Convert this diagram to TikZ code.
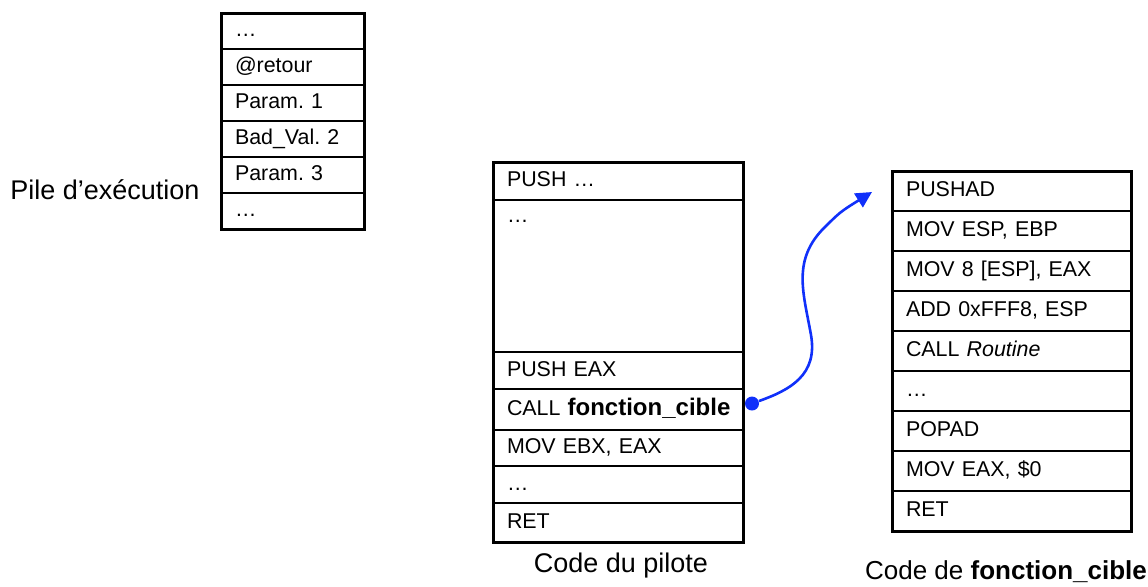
\documentclass[tikz,border=0pt]{standalone}
\usepackage{fontspec}
\setmainfont{Liberation Sans}
\usetikzlibrary{arrows.meta, positioning}
\definecolor{callblue}{RGB}{16,48,250}
\frenchspacing
\tikzset{
  cell/.style={
    rectangle, draw=black, line width=0.75pt, outer sep=0pt,
    inner xsep=7pt, inner ysep=0pt, align=left,
    text height=8pt, text depth=2.5pt, font=\fontsize{10.7}{12}\selectfont
  },
  stackcell/.style={cell, text width=57.5pt, minimum height=18pt},
  drvcell/.style={cell, text width=111pt},
  tgtcell/.style={cell, text width=105.5pt, minimum height=20pt},
  frame/.style={draw=black, line width=1.5pt},
  caption/.style={font=\fontsize{13.5}{15}\selectfont},
  dot/.style={circle, fill=callblue, inner sep=0pt, minimum size=7pt},
  callarrow/.style={-{Triangle[length=8pt, width=8pt]}, draw=callblue, line width=1.3pt}
}

\begin{document}
\begin{tikzpicture}[x=0.5pt, y=-0.5pt]
    \useasboundingbox (0,0) rectangle (1148,586);
    % pile d'execution
    \node[stackcell, anchor=north west] (s1) at (221,13) {…};
    \node[stackcell, below=0pt of s1] (s2) {@retour};
    \node[stackcell, below=0pt of s2] (s3) {Param. 1};
    \node[stackcell, below=0pt of s3] (s4) {Bad\_Val. 2};
    \node[stackcell, below=0pt of s4] (s5) {Param. 3};
    \node[stackcell, below=0pt of s5] (s6) {…};
    \draw[frame] (s1.north west) rectangle (s6.south east);
    \node[caption] (pile) at (105,190) {Pile d’exécution};
    % code du pilote
    \node[drvcell, minimum height=19pt, anchor=north west] (p1) at (493,162) {PUSH …};
    \node[drvcell, minimum height=76pt, text depth=62pt, inner ysep=3pt, below=0pt of p1] (p2) {…};
    \node[drvcell, minimum height=18.5pt, below=0pt of p2] (p3) {PUSH EAX};
    \node[drvcell, minimum height=20.5pt, below=0pt of p3] (p4) {\mbox{CALL {\fontsize{12}{14}\selectfont\bfseries fonction\_cible}}};
    \node[drvcell, minimum height=18pt, below=0pt of p4] (p5) {MOV EBX, EAX};
    \node[drvcell, minimum height=18.5pt, below=0pt of p5] (p6) {…};
    \node[drvcell, minimum height=19.5pt, below=0pt of p6] (p7) {RET};
    \draw[frame] (p1.north west) rectangle (p7.south east);
    \node[caption] (pilote) at (621,566) {Code du pilote};
    % code de fonction_cible
    \node[tgtcell, anchor=north west] (f1) at (892,171) {PUSHAD};
    \node[tgtcell, below=0pt of f1] (f2) {MOV ESP, EBP};
    \node[tgtcell, below=0pt of f2] (f3) {MOV 8 [ESP], EAX};
    \node[tgtcell, below=0pt of f3] (f4) {ADD 0xFFF8, ESP};
    \node[tgtcell, below=0pt of f4] (f5) {CALL \textit{Routine}};
    \node[tgtcell, below=0pt of f5] (f6) {…};
    \node[tgtcell, below=0pt of f6] (f7) {POPAD};
    \node[tgtcell, below=0pt of f7] (f8) {MOV EAX, \$0};
    \node[tgtcell, below=0pt of f8] (f9) {RET};
    \draw[frame] (f1.north west) rectangle (f9.south east);
    \node[caption, font=\fontsize{13}{15}\selectfont] (cible) at (1006,572) {Code de \textbf{fonction\_cible}};
    % appel
    \node[dot] (callpt) at ([xshift=4.5pt, yshift=3pt]p4.east) {};
    \coordinate (tip) at ([xshift=-10pt, yshift=-10.5pt]f1.north west);
    \draw[callarrow] (callpt) .. controls (790,390) and (818,375) .. (811,335)
        .. controls (804,295) and (792,262) .. (822,230) .. controls (840,212) .. (tip);
\end{tikzpicture}
\end{document}
